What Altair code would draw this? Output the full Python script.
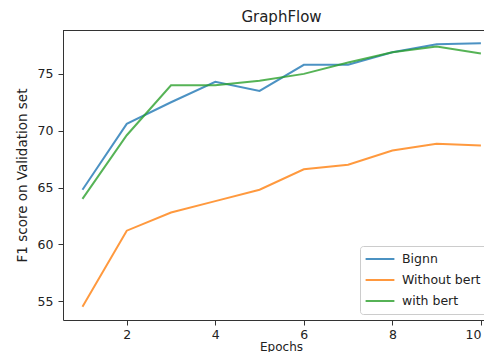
import altair as alt
import pandas as pd

epochs = [1, 2, 3, 4, 5, 6, 7, 8, 9, 10]
bignn = [64.8, 70.6, 72.5, 74.3, 73.5, 75.8, 75.8, 76.9, 77.6, 77.7]
without_bert = [54.5, 61.2, 62.8, 63.8, 64.8, 66.6, 67.0, 68.25, 68.85, 68.7]
with_bert = [64.0, 69.6, 74.0, 74.0, 74.4, 75.0, 76.0, 76.9, 77.4, 76.8]
series_names = ["Bignn", "Without bert", "with bert"]
series_colors = ["#1f77b4", "#ff7f0e", "#2ca02c"]
x_ticks = [2, 4, 6, 8, 10]
y_ticks = [55, 60, 65, 70, 75]

rows = []
for name, vals in zip(series_names, [bignn, without_bert, with_bert]):
    for e, v in zip(epochs, vals):
        rows.append({"Epochs": e, "score": v, "series": name})
df = pd.DataFrame(rows)

FONT = "DejaVu Sans"
W, H = 421, 290

lines = alt.Chart(df).mark_line(strokeWidth=2, opacity=0.8).encode(
    x=alt.X("Epochs:Q",
            scale=alt.Scale(domain=[0.56, 10.07], nice=False, zero=False),
            axis=alt.Axis(values=x_ticks, title="Epochs", grid=False,
                          tickSize=5, labelPadding=3, labelFlush=6,
                          titleFontSize=12,
                          titleX=218, titleY=30, titleAlign="center",
                          titleBaseline="alphabetic")),
    y=alt.Y("score:Q",
            scale=alt.Scale(domain=[53.34, 78.86], nice=False, zero=False),
            axis=alt.Axis(values=y_ticks, title="F1 score on Validation set",
                          titleFontSize=13.5,
                          grid=False, tickSize=5, labelPadding=5, titlePadding=8)),
    color=alt.Color("series:N",
                    scale=alt.Scale(domain=series_names, range=series_colors),
                    sort=series_names,
                    legend=alt.Legend(title=None, orient="none", legendX=297, legendY=216,
                                      symbolType="M-2.4,0H2.4", symbolSize=144,
                                      symbolStrokeWidth=2, symbolOffset=7,
                                      labelFontSize=12.5,
                                      labelFont=FONT, labelColor="#222",
                                      fillColor="white", strokeColor="#ccc",
                                      cornerRadius=3, padding=6, rowPadding=7,
                                      labelOffset=15)),
)

top_border = alt.Chart(df).mark_rule(color="#333", strokeWidth=1).encode(
    x=alt.value(0), x2=alt.value(W), y=alt.value(0.5)
)

chart = alt.layer(lines, top_border).properties(
    width=W,
    height=H,
    title=alt.TitleParams("GraphFlow", fontSize=15, font=FONT, fontWeight="normal",
                          color="#222", offset=5, dx=8),
    autosize=alt.AutoSizeParams(type="none"),
    padding={"left": 55, "top": 22, "right": 0, "bottom": 32},
).configure_view(
    stroke=None
).configure_axis(
    labelFont=FONT, titleFont=FONT, labelFontSize=12.5,
    titleFontWeight="normal", labelColor="#222", titleColor="#222",
    domainColor="#333", tickColor="#333"
)

chart.save("out.html", embed_options={"renderer": "svg", "actions": False})
